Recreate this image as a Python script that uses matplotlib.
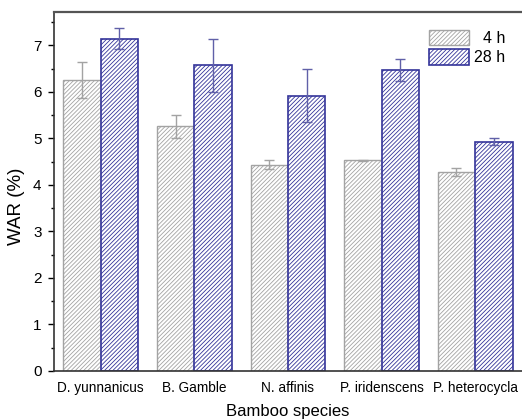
import matplotlib
matplotlib.use("Agg")
import matplotlib.pyplot as plt
import numpy as np
from matplotlib.ticker import MultipleLocator

plt.rcParams['font.family'] = ['Liberation Sans', 'DejaVu Sans']
plt.rcParams['hatch.linewidth'] = 0.6

species = ["D. yunnanicus", "B. Gamble", "N. affinis", "P. iridenscens", "P. heterocycla"]
war_4h = [6.26, 5.26, 4.44, 4.53, 4.28]
err_4h = [0.39, 0.25, 0.10, 0.01, 0.08]
war_28h = [7.15, 6.57, 5.92, 6.47, 4.93]
err_28h = [0.22, 0.57, 0.57, 0.23, 0.08]

gray = "#a3a3a3"
navy = "#34349a"

fig = plt.figure(figsize=(5.22, 4.2), dpi=100)
ax = fig.add_axes([0.1034, 0.1167, 0.8966, 0.8547])

x = np.arange(len(species))
w = 0.4
ax.bar(x - w / 2, war_4h, w, facecolor="white", edgecolor=gray, hatch="////////",
       linewidth=1.0, label="  4 h")
ax.bar(x + w / 2, war_28h, w, facecolor="white", edgecolor=navy, hatch="////////",
       linewidth=1.2, label="28 h")
ax.errorbar(x - w / 2, war_4h, yerr=err_4h, fmt="none", ecolor=gray,
            elinewidth=1.0, capsize=3.5, capthick=1.0)
ax.errorbar(x + w / 2, war_28h, yerr=err_28h, fmt="none", ecolor="#6060a8",
            elinewidth=1.0, capsize=3.5, capthick=1.0)

ax.set_xlim(-0.5, 4.5)
ax.set_ylim(0, 7.72)
ax.set_xticks(x)
ax.set_xticklabels(species, fontsize=9.8)
ax.tick_params(axis="x", length=0, pad=7)
ax.yaxis.set_major_locator(MultipleLocator(1))
ax.yaxis.set_minor_locator(MultipleLocator(0.5))
ax.tick_params(axis="y", which="major", direction="out", length=4, width=1,
               labelsize=11, pad=5)
ax.tick_params(axis="y", which="minor", direction="out", length=2.5, width=1)

for s in ["left", "bottom"]:
    ax.spines[s].set_color("#333333")
    ax.spines[s].set_linewidth(1.2)
ax.spines["top"].set_color("#555555")
ax.spines["top"].set_linewidth(1.6)
ax.spines["right"].set_visible(False)

ax.set_xlabel("Bamboo species", fontsize=12, labelpad=7)
ax.set_ylabel("WAR (%)", fontsize=13.5)
ax.yaxis.set_label_coords(-0.062, 0.46)

ax.legend(loc="upper right", bbox_to_anchor=(0.995, 0.99), frameon=False,
          fontsize=11.5, handlelength=2.5, handleheight=1.1,
          handletextpad=0.3, labelspacing=0.2)

fig.savefig("out.png", dpi=100, facecolor="white")
